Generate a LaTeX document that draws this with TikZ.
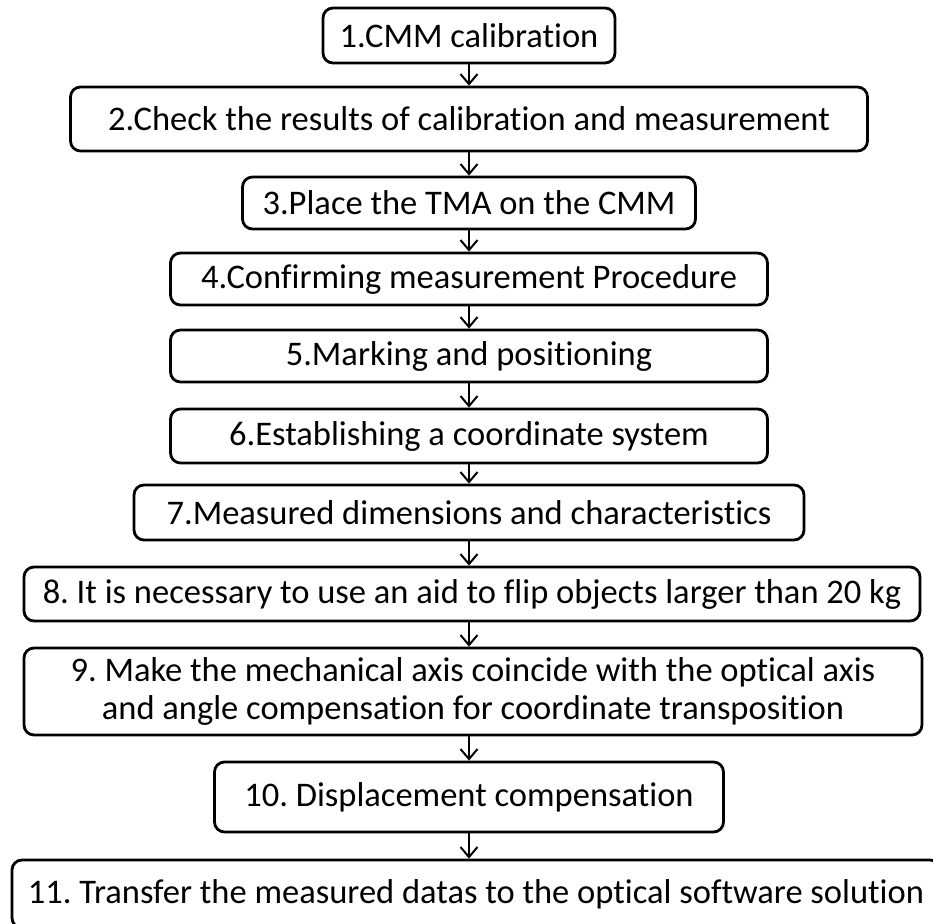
\documentclass[tikz,border=0pt]{standalone}
\usepackage{fontspec}
\setmainfont{Carlito}[Ligatures=NoCommon]
\frenchspacing
\usetikzlibrary{arrows.meta}

\begin{document}
\begin{tikzpicture}[x=0.5pt,y=-0.5pt,
  box/.style={draw,rounded corners=5pt,line width=1.4pt,inner sep=0pt,align=center,
    font=\fontsize{17.25}{19}\selectfont},
  flow/.style={-{Straight Barb[length=5pt,width=8.5pt]},line width=1pt}]
 \useasboundingbox (0,0) rectangle (933,924);

 \draw (469,35.5) node[box,minimum width=146pt,minimum height=27.5pt] (cal) {1.CMM calibration};
 \draw (469,119) node[box,minimum width=398.5pt,minimum height=32pt] (check) {2.Check the results of calibration and measurement};
 \draw (469,203) node[box,minimum width=226.5pt,minimum height=26pt] (place) {3.Place the TMA on the CMM};
 \draw (469,279) node[box,minimum width=298.5pt,minimum height=26pt] (proc) {4.Confirming measurement Procedure};
 \draw (469,356) node[box,minimum width=298.5pt,minimum height=26pt] (mark) {5.Marking and positioning};
 \draw (469,436) node[box,minimum width=298.5pt,minimum height=27pt] (coord) {6.Establishing a coordinate system};
 \draw (469,512.5) node[box,minimum width=335pt,minimum height=27.5pt] (dims) {7.Measured dimensions and characteristics};
 \draw (472,594) node[box,minimum width=448pt,minimum height=27pt] (flip) {8. It is necessary to use an aid to flip objects larger than 20 kg};
 \draw (473,691.5) node[box,minimum width=449pt,minimum height=43.5pt] (axis) {9. Make the mechanical axis coincide with the optical axis\\and angle compensation for coordinate transposition};
 \draw (469,797) node[box,minimum width=254.5pt,minimum height=35pt] (disp) {10. Displacement compensation};
 \draw (476,894) node[box,minimum width=464pt,minimum height=34pt] (trans) {11. Transfer the measured datas to the optical software solution};

 \path[flow] (cal) edge (check);
 \path[flow] (check) edge (place);
 \path[flow] (place) edge (proc);
 \path[flow] (proc) edge (mark);
 \path[flow] (mark) edge (coord);
 \path[flow] (coord) edge (dims);
 \draw[flow] (dims.south) -- (dims.south |- flip.north);
 \draw[flow] (dims.south |- flip.south) -- (dims.south |- axis.north);
 \draw[flow] (disp.north |- axis.south) -- (disp.north);
 \draw[flow] (disp.south) -- (disp.south |- trans.north);
\end{tikzpicture}
\end{document}
